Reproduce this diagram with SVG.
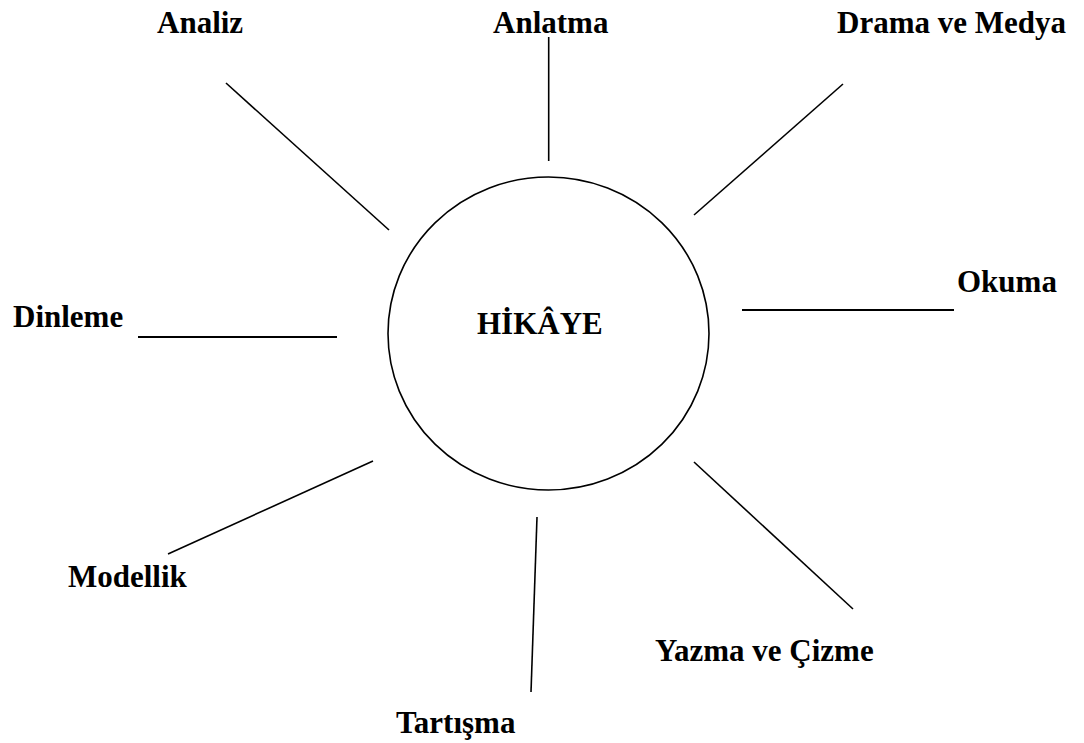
<svg xmlns="http://www.w3.org/2000/svg" width="1084" height="743" viewBox="0 0 1084 743">
  <style>
    .lbl { font-family: "Liberation Serif", "Times New Roman", serif; font-weight: bold; font-size: 31px; fill: #000; }
    .ray { stroke: #000; stroke-width: 1.6; fill: none; }
    .ray.thick { stroke-width: 2.2; }
    .hub { stroke: #000; stroke-width: 1.6; fill: #fff; }
  </style>
  <rect width="1084" height="743" fill="#fff"/>

  <!-- spokes radiating from the central story circle -->
  <g id="connectors">
    <line class="ray" x1="226" y1="83" x2="389" y2="230"/>
    <line class="ray" x1="548.7" y1="37" x2="548.7" y2="161"/>
    <line class="ray" x1="843" y1="84" x2="694" y2="215"/>
    <line class="ray thick" x1="742" y1="310" x2="954" y2="310"/>
    <line class="ray thick" x1="138" y1="337" x2="337" y2="337"/>
    <line class="ray" x1="373" y1="461" x2="168" y2="554"/>
    <line class="ray" x1="537" y1="517" x2="531" y2="692"/>
    <line class="ray" x1="694" y1="462" x2="853" y2="609"/>
  </g>

  <g id="hikaye">
    <ellipse class="hub" cx="548.5" cy="333.5" rx="160.5" ry="156.5"/>
    <text class="lbl" x="477" y="334">HİKÂYE</text>
  </g>

  <g id="analiz"><text class="lbl" x="157" y="33">Analiz</text></g>
  <g id="anlatma"><text class="lbl" x="493" y="33">Anlatma</text></g>
  <g id="drama-ve-medya"><text class="lbl" x="837" y="33">Drama ve Medya</text></g>
  <g id="okuma"><text class="lbl" x="957" y="292">Okuma</text></g>
  <g id="dinleme"><text class="lbl" x="13" y="327">Dinleme</text></g>
  <g id="modellik"><text class="lbl" x="68" y="587">Modellik</text></g>
  <g id="tartisma"><text class="lbl" x="396" y="733">Tartışma</text></g>
  <g id="yazma-ve-cizme"><text class="lbl" x="655" y="661">Yazma ve Çizme</text></g>
</svg>
